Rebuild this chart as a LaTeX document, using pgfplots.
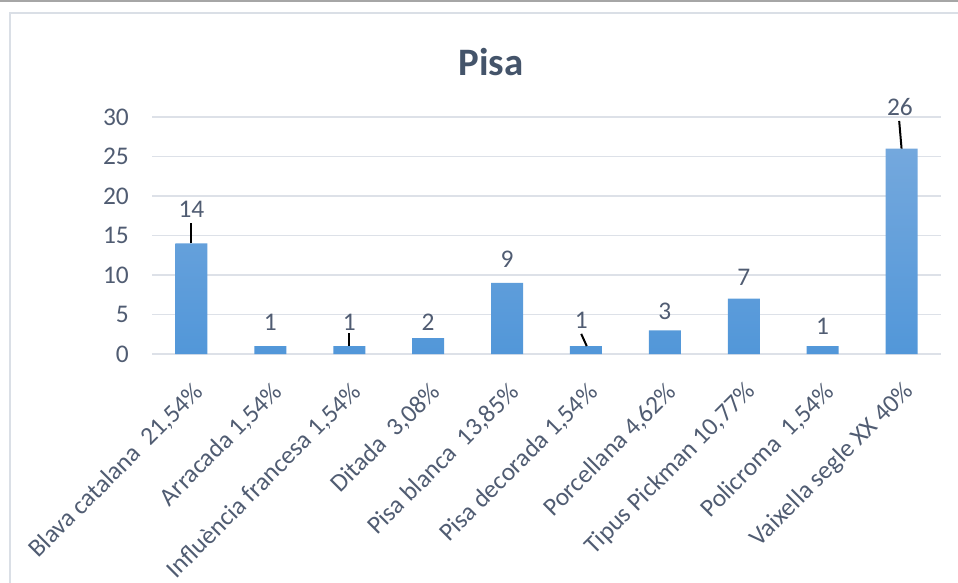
\documentclass[border=0pt]{standalone}
\usepackage{fontspec}
\setmainfont{Carlito}
\usepackage{pgfplots}
\pgfplotsset{compat=1.18}
\definecolor{txt}{HTML}{505C72}
\definecolor{ttl}{HTML}{44546A}
\definecolor{gridc}{HTML}{DDE1E8}
\definecolor{framec}{HTML}{DADFE6}
\definecolor{bartop}{HTML}{74A8DD}
\definecolor{barbot}{HTML}{5297D9}
\begin{document}
\begin{tikzpicture}
\path[use as bounding box] (0bp,0bp) rectangle (958bp,583bp);
\draw[color=black!35, line width=1.5bp] (0bp,582bp) -- (958bp,582bp);
\draw[color=framec, line width=1.5bp] (958bp,570bp) -- (10bp,570bp) -- (10bp,0bp);
\node[font=\bfseries\fontsize{39}{46}\selectfont, text=ttl] at (491bp,521bp) {Pisa};
\begin{axis}[
  at={(152bp,229bp)}, anchor=south west,
  scale only axis, width=789bp, height=237bp,
  xmin=-0.5, xmax=9.5, ymin=0, ymax=30,
  clip=false,
  axis line style={draw=none},
  major tick length=0pt,
  ymajorgrids, grid style={color=gridc, line width=1.6bp},
  ytick={0,5,...,30},
  xtick={0,...,9},
  xticklabels={{Blava catalana~ 21,54\%}, {Arracada 1,54\%}, {Influència francesa 1,54\%}, {Ditada~ 3,08\%}, {Pisa blanca~ 13,85\%}, {Pisa decorada 1,54\%}, {Porcellana 4,62\%}, {Tipus Pickman 10,77\%}, {Policroma~ 1,54\%}, {Vaixella segle XX 40\%}},
  tick label style={font=\fontsize{25.5}{30}\selectfont, text=txt, inner sep=0pt},
  /pgf/number format/assume math mode=true,
  yticklabel style={anchor=east, xshift=-23bp},
  xticklabel style={xshift=8bp, yshift=-34bp, rotate=45, anchor=east},
]
\addplot[ybar, bar width=32bp, bar shift=0pt, draw=none, top color=bartop, bottom color=barbot]
  coordinates {(0,14) (1,1) (2,1) (3,2) (4,9) (5,1) (6,3) (7,7) (8,1) (9,26)};
% leader lines
\addplot[black, line width=2bp] coordinates {(0,14) (0,16.6)};
\addplot[black, line width=2bp] coordinates {(2,1) (2,2.7)};
\addplot[black, line width=2bp] coordinates {(5.01,1) (4.94,2.55)};
\addplot[black, line width=2bp] coordinates {(9.0,26) (8.97,29.5)};
% data labels
\addplot[draw=none, mark=none, nodes near coords, point meta=explicit symbolic,
  every node near coord/.append style={font=\fontsize{25.5}{30}\selectfont, text=txt, inner sep=0pt, anchor=south}]
  table[meta=lab] {
x y lab
0 17.2 14
1 3.0 1
2 3.0 1
3 3.0 2
4 10.9 9
4.94 3.25 1
6 4.3 3
7 8.7 7
8 2.45 1
8.98 30.2 26
};
\end{axis}
\end{tikzpicture}
\end{document}
